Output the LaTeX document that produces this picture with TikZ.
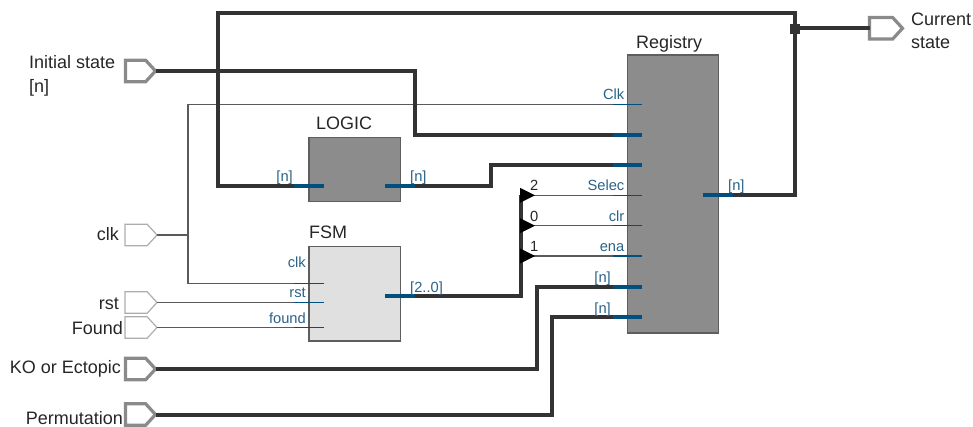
\documentclass[tikz,border=0pt]{standalone}
\usepackage{fontspec}
\setmainfont{Liberation Sans}
\usetikzlibrary{shapes.symbols}
\definecolor{pinblue}{HTML}{004F7F}
\definecolor{pintext}{HTML}{2A6288}
\definecolor{wiredark}{HTML}{333333}
\definecolor{wirethin}{HTML}{5A5A5A}
\definecolor{edgegrey}{HTML}{5E5E5E}
\definecolor{portgrey}{HTML}{8A8A8A}
\begin{document}
\begin{tikzpicture}[x=1pt,y=-1pt,
  bus/.style={draw=wiredark,line width=4pt,line join=miter},
  sig/.style={draw=wirethin,line width=1.4pt},
  buspin/.style={draw=pinblue,line width=4pt},
  sigpin/.style={draw=pinblue,line width=1.1pt},
  block/.style={draw=edgegrey,line width=1.5pt,anchor=north west,inner sep=0pt,outer sep=0pt},
  darkblock/.style={block,fill=black!45},
  lightblock/.style={block,fill=black!12},
  port/.style={signal,signal to=east,signal pointer angle=95,draw=portgrey!70,fill=white,
     anchor=west,inner sep=0pt,outer sep=0pt,minimum width=32pt,minimum height=21.5pt,line width=1.2pt},
  busport/.style={port,draw=portgrey,line width=3.2pt,minimum width=30pt,minimum height=21.5pt},
  lbl/.style={font=\fontsize{18}{20}\selectfont,text=black!85,inner sep=0pt},
  pinlbl/.style={font=\fontsize{14.7}{16}\selectfont,text=pintext,inner sep=0pt},
  numlbl/.style={font=\fontsize{14.7}{16}\selectfont,text=black!85,inner sep=0pt},
  tri/.style={fill=black}]
\useasboundingbox (0,0) rectangle (973,427);
% blocks
\node[darkblock,minimum width=91.3pt,minimum height=278pt] (registry) at (627.3,55) {};
\node[darkblock,minimum width=91.3pt,minimum height=64pt] (logic) at (309,137.3) {};
\node[lightblock,minimum width=91.3pt,minimum height=94.3pt] (fsm) at (309,246.7) {};
% ports
\node[busport] (pinit) at (125.5,71) {};
\node[port] (pclk) at (125,235) {};
\node[port] (prst) at (125,302.5) {};
\node[port] (pfound) at (125,327.5) {};
\node[busport] (pko) at (125.5,369) {};
\node[busport] (pperm) at (125.5,414.5) {};
\node[busport,minimum width=33pt] (pcur) at (869.5,28.3) {};
% pin coordinates: outer end, inner end
\coordinate (rClkO) at (612.7,104.3); \coordinate (rClkI) at (642.3,104.3);
\coordinate (rAO) at (612.7,134.7);   \coordinate (rAI) at (642.3,134.7);
\coordinate (rBO) at (612.7,165);     \coordinate (rBI) at (642.3,165);
\coordinate (rSelI) at (642.3,195.3); \coordinate (rSelO) at (612.7,195.3);
\coordinate (rClrI) at (642.3,225.7); \coordinate (rClrO) at (612.7,225.7);
\coordinate (rEnaI) at (642.3,256);   \coordinate (rEnaO) at (612.7,256);
\coordinate (rCO) at (612.7,286.7);   \coordinate (rCI) at (642.3,286.7);
\coordinate (rDO) at (612.7,317);     \coordinate (rDI) at (642.3,317);
\coordinate (rOutI) at (703.3,195.3); \coordinate (rOutO) at (733.3,195.3);
\coordinate (lInO) at (294,185.8);    \coordinate (lInI) at (324,185.8);
\coordinate (lOutI) at (385,185.8);   \coordinate (lOutO) at (415,185.8);
\coordinate (fClkO) at (294,283.3);   \coordinate (fClkI) at (324,283.3);
\coordinate (fRstO) at (294,302.5);   \coordinate (fRstI) at (324,302.5);
\coordinate (fFndO) at (294,327.5);   \coordinate (fFndI) at (324,327.5);
\coordinate (fOutI) at (385,295.7);   \coordinate (fOutO) at (415,295.7);
\coordinate (tSel) at (521.3,195.3);
\coordinate (tClr) at (521.3,225.7);
\coordinate (tEna) at (521.3,256);
\coordinate (join) at (794.5,28.3);
% thin wires
\draw[sig] (pclk.east) -- (188,235);
\draw[sig] (rClkO) -- (188,104.3) -- (188,283.3) -- (fClkO);
\draw[sig] (prst.east) -- (fRstO);
\draw[sig] (pfound.east) -- (fFndO);
\draw[sig] (tSel) -- (rSelO);
\draw[sig] (tClr) -- (rClrO);
\draw[sig] (tEna) -- (rEnaO);
% buses
\draw[bus] (join) -- (794.5,13.3) -- (218.3,13.3) -- (218.3,185.8) -- (lInO);
\draw[bus] (pinit.east) -- (415,71) -- (415,134.7) -- (rAO);
\draw[bus] (lOutO) -- (491,185.8) -- (491,165) -- (rBO);
\draw[bus] (fOutO) -- (521.3,295.7) -- (tSel);
\draw[bus] (pko.east) -- (536.7,369) -- (536.7,286.7) -- (rCO);
\draw[bus] (pperm.east) -- (551.7,414.5) -- (551.7,317) -- (rDO);
\draw[bus] (rOutO) -- (794.5,195.3) -- (join);
\draw[bus] (join) -- (pcur.west);
\fill[wiredark] (789.5,23.8) rectangle (800,34.3);
% pin stubs
\foreach \a/\b in {rClkO/rClkI,rSelO/rSelI,rClrO/rClrI,rEnaO/rEnaI,fClkO/fClkI,fRstO/fRstI,fFndO/fFndI}
  \draw[sigpin] (\a) -- (\b);
\foreach \a/\b in {rAO/rAI,rBO/rBI,rCO/rCI,rDO/rDI,rOutI/rOutO,lInO/lInI,lOutI/lOutO,fOutI/fOutO}
  \draw[buspin] (\a) -- (\b);
% triangles
\foreach \c in {tSel,tClr,tEna}
  \fill[tri] (\c) ++(-1.3,-7.5) -- ++(15,7.5) -- ++(-15,7.5) -- cycle;
% labels
\node[lbl,anchor=base west] (tInit) at (29,69) {Initial state};
\node[lbl,anchor=base west] (tInitN) at (29,92.5) {[n]};
\node[lbl,anchor=base west] (tCur) at (911,25.7) {Current};
\node[lbl,anchor=base west] (tState) at (911,49) {state};
\node[lbl,anchor=base east] (tClk) at (119,241) {clk};
\node[lbl,anchor=base east] (tRst) at (119,309) {rst};
\node[lbl,anchor=base east] (tFound) at (123,334) {Found};
\node[lbl,anchor=base east] (tKO) at (121,373) {KO or Ectopic};
\node[lbl,anchor=base east] (tPerm) at (123,424) {Permutation};
\node[lbl,anchor=base west] (tLogic) at (316,130) {LOGIC};
\node[lbl,anchor=base west] (tFsm) at (309,239) {FSM};
\node[lbl,anchor=base west] (tReg) at (636,49) {Registry};
\node[pinlbl,anchor=base east] (lClk) at (624.5,100) {Clk};
\node[pinlbl,anchor=base east] (lSel) at (624.5,191) {Selec};
\node[pinlbl,anchor=base east] (lClr) at (624.5,222) {clr};
\node[pinlbl,anchor=base east] (lEna) at (624.5,252) {ena};
\node[pinlbl,anchor=base east] (lC) at (611,283) {[n]};
\node[pinlbl,anchor=base east] (lD) at (611,313) {[n]};
\node[numlbl,anchor=base west] (n2) at (530,191) {2};
\node[numlbl,anchor=base west] (n0) at (530,222) {0};
\node[numlbl,anchor=base west] (n1) at (530,252) {1};
\node[pinlbl,anchor=base east] (lfClk) at (306,268) {clk};
\node[pinlbl,anchor=base east] (lfRst) at (306,298) {rst};
\node[pinlbl,anchor=base east] (lfFnd) at (306,323) {found};
\node[pinlbl,anchor=base east] (llIn) at (293,182) {[n]};
\node[pinlbl,anchor=base west] (llOut) at (410,182) {[n]};
\node[pinlbl,anchor=base west] (lfOut) at (410,292) {[2..0]};
\node[pinlbl,anchor=base west] (lrOut) at (728,191) {[n]};
\end{tikzpicture}
\end{document}
